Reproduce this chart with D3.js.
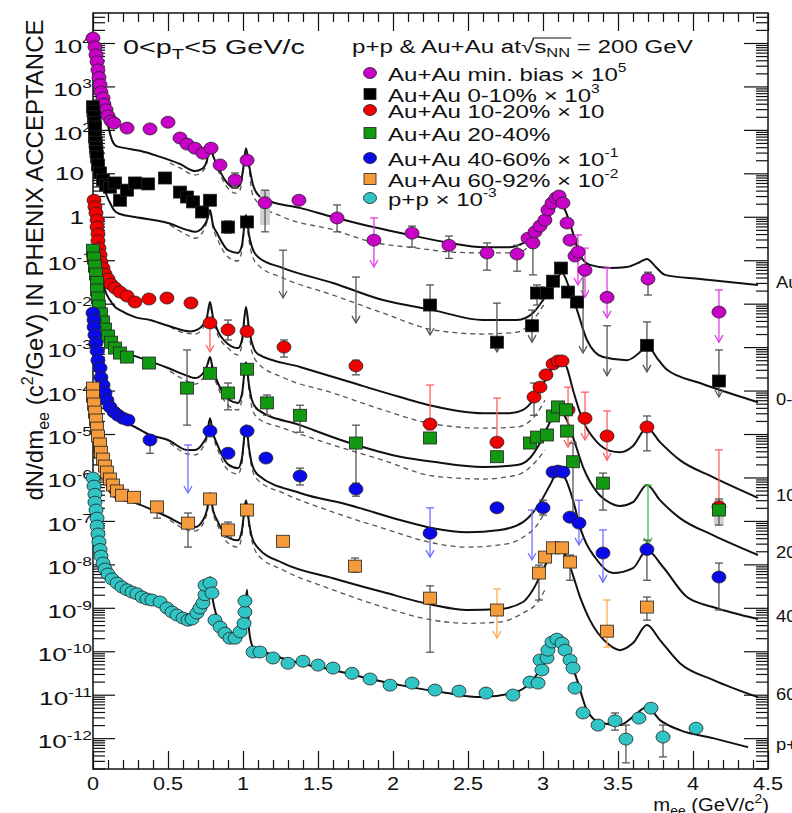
<!DOCTYPE html>
<html>
<head>
<meta charset="utf-8">
<script src="https://cdn.jsdelivr.net/npm/d3@7"></script>
<style>
body { margin: 0; background: #fff; }
svg text { font-family: "Liberation Sans", Arial, Helvetica, sans-serif; fill: #111; }
</style>
</head>
<body>
<svg id="chart" width="792" height="813"></svg>
<script>
// ---- data: [m_ee (GeV/c2), dN/dm_ee] ----
// error rows: [m, low, high, arrow(upper limit), coloured bar]

// Au+Au min. bias x 10^5
const mbPts = [[0,1.3e4],[0.013,8.1e3],[0.02,5.3e3],[0.027,3.7e3],[0.033,2.4e3],[0.04,1.6e3],[0.047,1.1e3],[0.053,740],[0.067,540],[0.073,390],[0.087,290],[0.1,210],[0.12,160],[0.14,144],[0.227,110],[0.38,105],[0.5,150],[0.58,65],[0.627,47],[0.68,38],[0.733,29],[0.787,38],[0.847,15.6],[0.947,7.0],[1.027,20],[1.147,2.1],[1.373,2.4],[1.627,0.94],[1.873,0.29],[2.127,0.42],[2.373,0.22],[2.627,0.147],[2.827,0.139],[2.9,0.32],[2.933,0.25],[2.947,0.45],[2.98,0.61],[3.013,0.84],[3.033,1.43],[3.06,2.07],[3.087,2.7],[3.107,3.0],[3.133,2.07],[3.16,0.72],[3.18,0.29],[3.213,0.125],[3.233,0.155],[3.28,0.059],[3.427,0.014],[3.7,0.037],[4.173,0.0064]];
const mbErr = [[0.947,4.6,10.2,0,0],[1.147,0.45,4.1,0,0],[1.627,0.45,1.87,0,0],[1.873,0.07,0.94,1,1],[2.127,0.20,0.61,0,0],[2.373,0.11,0.36,0,0],[2.627,0.059,0.25,0,0],[2.827,0.056,0.22,0,0],[2.933,0.046,0.38,0,0],[3.233,0.027,0.38,1,1],[3.28,0.014,0.19,1,1],[3.427,0.0047,0.066,1,1],[3.7,0.0158,0.053,0,0],[4.173,0.0013,0.0206,1,1]];
const mbSys = [[1.147,0.65,4.1]];
const mbCurve = [[0,1.17e4],[0.047,1080],[0.08,290],[0.1,130],[0.127,58],[0.153,43],[0.213,38],[0.313,33],[0.447,24],[0.58,16.4],[0.68,11.3],[0.727,12.6],[0.76,20],[0.78,50],[0.8,26],[0.827,15.6],[0.88,7.0],[0.947,4.6],[0.98,5.4],[1.0,11.9],[1.02,38],[1.04,15.6],[1.067,5.4],[1.1,3.2],[1.16,2.4],[1.38,1.6],[1.6,0.99],[1.867,0.58],[2.113,0.38],[2.38,0.25],[2.6,0.20],[2.78,0.20],[2.88,0.26],[2.947,0.38],[3.0,0.58],[3.047,1.1],[3.1,2.3],[3.147,1.43],[3.193,0.50],[3.247,0.13],[3.313,0.078],[3.447,0.066],[3.56,0.070],[3.647,0.091],[3.693,0.107],[3.747,0.073],[3.813,0.046],[4.047,0.037],[4.433,0.027]];
const mbDash = [[0.513,17.3],[0.58,13.3],[0.68,9.2],[0.727,10.7],[0.76,18],[0.78,45],[0.8,24],[0.827,13.3],[0.88,5.7],[0.947,3.5],[0.98,4.1],[1.0,10.2],[1.02,34],[1.04,13.3],[1.06,3.7],[1.1,2.1],[1.267,0.99],[1.6,0.50],[1.867,0.26],[2.16,0.19],[2.38,0.155],[2.6,0.147],[2.827,0.147],[2.913,0.22],[2.96,0.32]];

// Au+Au 0-10% x 10^3
const c0Pts = [[0,340],[0.003,270],[0.007,200],[0.01,150],[0.013,116],[0.013,69],[0.017,52],[0.02,40],[0.023,32],[0.027,24],[0.033,15.6],[0.047,10.2],[0.067,7.0],[0.087,5.4],[0.113,4.8],[0.147,6.0],[0.18,2.4],[0.227,4.1],[0.28,6.0],[0.367,5.7],[0.48,7.8],[0.58,3.7],[0.627,2.85],[0.667,2.2],[0.727,1.29],[0.78,2.4],[0.9,0.58],[1.027,0.76],[2.247,0.0093],[2.693,0.0013],[2.927,0.0031],[2.96,0.0176],[3.027,0.0176],[3.067,0.033],[3.12,0.066],[3.167,0.0185],[3.227,0.0109],[3.693,0.0011],[4.173,1.66e-4]];
const c0Err = [[0.9,0.42,0.8,0,0],[1.267,0.0135,0.17,1,0],[1.753,0.0036,0.041,1,0],[2.247,0.0019,0.027,1,0],[2.693,7.7e-4,0.0103,1,0],[2.927,0.0013,0.0071,1,0],[2.96,0.0093,0.027,0,0],[3.267,7.3e-4,0.059,1,0],[3.427,2.2e-4,0.0031,1,0],[3.693,2.7e-4,0.0038,1,0],[4.173,7.1e-5,8.6e-4,1,0]];
const c0Curve = [[0,340],[0.027,58],[0.047,20],[0.08,4.1],[0.113,2.1],[0.14,1.43],[0.18,1.16],[0.28,0.99],[0.5,0.72],[0.627,0.50],[0.68,0.45],[0.733,0.58],[0.76,0.84],[0.78,1.43],[0.8,0.65],[0.827,0.42],[0.9,0.17],[0.967,0.147],[0.993,0.22],[1.02,1.1],[1.04,0.38],[1.06,0.20],[1.1,0.119],[1.267,0.066],[1.6,0.030],[1.933,0.0121],[2.267,0.0071],[2.6,0.0042],[2.827,0.0042],[2.933,0.0061],[3.0,0.0121],[3.067,0.027],[3.127,0.051],[3.18,0.0206],[3.227,0.0071],[3.293,0.00146],[3.4,5.9e-4],[3.56,5.0e-4],[3.647,7.7e-4],[3.693,0.00112],[3.76,5.6e-4],[3.827,3.0e-4],[4.047,1.49e-4],[4.433,5.4e-5]];
const c0Dash = [[0.513,0.65],[0.627,0.38],[0.68,0.32],[0.733,0.45],[0.76,0.76],[0.78,1.29],[0.8,0.55],[0.827,0.32],[0.9,0.119],[0.967,0.096],[0.993,0.17],[1.02,0.99],[1.04,0.29],[1.06,0.132],[1.1,0.078],[1.267,0.039],[1.6,0.0158],[1.933,0.0061],[2.267,0.0025],[2.6,0.0020],[2.827,0.0022],[2.96,0.0055],[3.013,0.0104]];

// Au+Au 10-20% x 10
const c10Pts = [[0.007,2.4],[0.013,1.68],[0.02,1.22],[0.027,0.84],[0.027,0.58],[0.033,0.40],[0.033,0.28],[0.04,0.19],[0.047,0.132],[0.053,0.091],[0.067,0.066],[0.08,0.048],[0.1,0.037],[0.12,0.028],[0.147,0.023],[0.18,0.0185],[0.227,0.015],[0.28,0.0109],[0.373,0.0128],[0.493,0.0135],[0.653,0.0104],[0.78,0.0036],[0.9,0.0025],[1.027,0.0023],[1.273,0.001],[1.753,3.7e-4],[2.247,1.7e-5],[2.693,6.5e-6],[2.94,7.1e-5],[2.98,1.2e-4],[3.02,2.3e-4],[3.067,4.1e-4],[3.1,4.8e-4],[3.127,4.8e-4],[3.167,3.6e-5],[3.28,2.3e-5],[3.427,9.0e-6],[3.693,1.45e-5],[4.173,2.1e-7]];
const c10Err = [[0.78,7.7e-4,0.0036,1,1],[0.9,0.00146,0.0042,0,0],[1.273,5.9e-4,0.00146,0,0],[1.753,2.3e-4,5.0e-4,0,0],[2.247,1.24e-5,1.34e-4,0,1],[2.693,4.8e-6,6.7e-5,0,1],[2.94,2.7e-5,1.49e-4,0,0],[3.167,5.0e-6,1.2e-4,1,1],[3.28,7.3e-6,9.2e-5,1,1],[3.427,2.5e-6,3.4e-5,1,1],[3.693,4.1e-6,2.6e-5,0,0],[4.173,2.1e-7,4.3e-6,1,1]];
const c10Curve = [[0,2.4],[0.027,0.29],[0.047,0.078],[0.08,0.0206],[0.113,0.0121],[0.147,0.0084],[0.18,0.0071],[0.28,0.0049],[0.38,0.0042],[0.5,0.0031],[0.647,0.0023],[0.693,0.0025],[0.733,0.0032],[0.76,0.0049],[0.78,0.0109],[0.8,0.0049],[0.827,0.0026],[0.9,0.00118],[0.967,9.5e-4],[0.993,0.00146],[1.02,0.0084],[1.04,0.0027],[1.06,0.00124],[1.1,6.9e-4],[1.38,3.5e-4],[1.713,1.57e-4],[2.047,7.1e-5],[2.267,4.4e-5],[2.6,3.0e-5],[2.78,3.0e-5],[2.867,3.6e-5],[2.933,6.0e-5],[2.98,1.14e-4],[3.027,2.0e-4],[3.067,3.7e-4],[3.12,5.3e-4],[3.16,3.3e-4],[3.2,1.03e-4],[3.267,2.0e-5],[3.36,6.5e-6],[3.447,4.1e-6],[3.513,3.8e-6],[3.6,5.3e-6],[3.693,1.37e-5],[3.78,6.5e-6],[3.913,2.5e-6],[4.133,1.02e-6],[4.433,3.4e-7]];
const c10Dash = [[0.513,0.0029],[0.613,0.0021],[0.68,0.0020],[0.733,0.0027],[0.76,0.0042],[0.78,0.0093],[0.8,0.0042],[0.827,0.0021],[0.9,9.5e-4],[0.967,6.6e-4],[0.993,0.00112],[1.02,0.0071],[1.04,0.0021],[1.06,7.7e-4],[1.1,4.3e-4],[1.267,2.0e-4],[1.6,8.8e-5],[1.933,3.6e-5],[2.267,1.7e-5],[2.6,1.37e-5],[2.827,1.45e-5],[2.96,3.0e-5],[3.013,6.0e-5]];

// Au+Au 20-40%
const c20Pts = [[0,0.17],[0.007,0.112],[0.013,0.073],[0.02,0.048],[0.027,0.031],[0.027,0.0206],[0.033,0.0135],[0.04,0.0088],[0.053,0.0058],[0.067,0.0038],[0.08,0.0026],[0.1,0.0018],[0.12,0.0013],[0.147,9.5e-4],[0.18,7.3e-4],[0.227,5.9e-4],[0.373,4.3e-4],[0.627,1.14e-4],[0.78,2.5e-4],[0.9,8.8e-5],[1.027,3.1e-4],[1.16,5.2e-5],[1.38,2.7e-5],[1.753,6.2e-6],[2.247,8.1e-6],[2.693,3.0e-6],[2.913,6.2e-6],[2.96,8.5e-6],[3.027,9.5e-6],[3.067,2.6e-5],[3.1,4.2e-5],[3.153,3.6e-5],[3.16,1.17e-5],[3.2,2.3e-6],[3.4,7.4e-7],[4.173,1.78e-7]];
const c20Err = [[0.627,1.6e-5,8.6e-4,0,0],[0.9,3.6e-5,1.49e-4,0,0],[1.16,2.7e-5,7.9e-5,0,0],[1.38,1.1e-5,4.6e-5,0,0],[1.753,4.6e-7,1.6e-5,0,0],[3.2,1.05e-7,6.2e-6,0,0],[3.4,1.78e-7,1.26e-6,0,0],[3.7,2.8e-8,6.7e-7,1,1],[4.173,8.0e-8,3.2e-7,0,0]];
const c20Sys = [[4.173,8.0e-8,3.0e-7]];
const c20Curve = [[0,0.17],[0.027,0.0206],[0.047,0.0071],[0.08,0.0022],[0.113,0.00124],[0.147,8.6e-4],[0.28,6.2e-4],[0.5,3.3e-4],[0.627,2.2e-4],[0.68,1.94e-4],[0.733,2.5e-4],[0.76,3.7e-4],[0.78,5.9e-4],[0.8,3.0e-4],[0.827,1.66e-4],[0.9,6.4e-5],[0.967,5.2e-5],[0.993,8.3e-5],[1.02,4.5e-4],[1.04,1.34e-4],[1.06,6.0e-5],[1.1,3.6e-5],[1.38,1.6e-5],[1.713,6.2e-6],[2.047,3.0e-6],[2.267,2.3e-6],[2.6,1.74e-6],[2.827,1.93e-6],[2.913,2.8e-6],[2.98,6.2e-6],[3.047,1.88e-5],[3.1,3.6e-5],[3.153,2.3e-5],[3.2,8.5e-6],[3.267,1.74e-6],[3.36,4.6e-7],[3.447,2.6e-7],[3.513,2.2e-7],[3.6,2.7e-7],[3.693,6.7e-7],[3.78,3.0e-7],[3.913,1.16e-7],[4.133,4.7e-8],[4.433,1.64e-8]];
const c20Dash = [[0.513,2.8e-4],[0.627,1.66e-4],[0.68,1.41e-4],[0.733,1.94e-4],[0.76,3.1e-4],[0.78,5.3e-4],[0.8,2.5e-4],[0.827,1.34e-4],[0.9,4.6e-5],[0.967,3.6e-5],[0.993,6.4e-5],[1.02,4.1e-4],[1.04,1.03e-4],[1.06,4.0e-5],[1.1,2.3e-5],[1.267,1.37e-5],[1.6,5.6e-6],[1.933,2.5e-6],[2.267,1.08e-6],[2.6,9.2e-7],[2.827,1.14e-6],[2.96,2.5e-6],[3.013,4.3e-6]];

// Au+Au 40-60% x 10^-1
const c40Pts = [[0,0.0061],[0.007,0.0042],[0.007,0.0029],[0.013,0.0019],[0.02,0.00124],[0.027,8.1e-4],[0.033,5.0e-4],[0.047,3.3e-4],[0.053,2.0e-4],[0.067,1.34e-4],[0.08,8.8e-5],[0.093,6.0e-5],[0.113,4.2e-5],[0.14,3.2e-5],[0.167,2.7e-5],[0.2,2.3e-5],[0.233,2.1e-5],[0.38,7.3e-6],[0.78,1.17e-5],[0.9,3.6e-6],[1.027,1.17e-5],[1.153,2.8e-6],[1.38,1.08e-6],[1.753,5.4e-7],[2.247,5.2e-8],[2.693,2.0e-7],[3.0,2.0e-7],[3.067,1.33e-6],[3.1,1.4e-6],[3.133,1.33e-6],[3.18,1.22e-7],[3.24,8.9e-8],[3.4,1.82e-8],[3.693,2.2e-8],[4.173,5.1e-9]];
const c40Err = [[0.38,3.6e-6,9.5e-6,0,0],[0.633,4.4e-7,5.6e-6,1,1],[1.38,6.7e-7,1.64e-6,0,0],[1.753,3.7e-7,7.4e-7,0,0],[2.247,1.47e-8,2.0e-7,1,1],[2.927,1.26e-8,1.78e-7,1,1],[3.0,1.36e-7,3.0e-7,0,0],[3.24,2.8e-8,3.0e-7,1,1],[3.4,3.9e-9,6.2e-8,1,1],[3.693,4.3e-9,3.6e-8,0,0],[4.173,8.9e-10,1.07e-8,0,0]];
const c40Curve = [[0,0.0061],[0.027,8.6e-4],[0.047,2.3e-4],[0.08,6.0e-5],[0.113,3.2e-5],[0.147,2.5e-5],[0.28,1.45e-5],[0.38,9.5e-6],[0.5,7.3e-6],[0.627,4.3e-6],[0.68,4.3e-6],[0.733,6.2e-6],[0.76,9.5e-6],[0.78,2.3e-5],[0.8,1.05e-5],[0.827,5.9e-6],[0.9,2.0e-6],[0.967,1.64e-6],[0.993,2.8e-6],[1.02,1.6e-5],[1.04,4.8e-6],[1.06,2.0e-6],[1.1,1.14e-6],[1.38,4.4e-7],[1.713,2.3e-7],[2.047,1.05e-7],[2.267,6.8e-8],[2.493,5.5e-8],[2.713,6.2e-8],[2.867,9.4e-8],[2.98,2.6e-7],[3.047,6.7e-7],[3.1,1.33e-6],[3.147,9.7e-7],[3.2,3.0e-7],[3.247,7.2e-8],[3.36,1.26e-8],[3.467,6.3e-9],[3.6,8.2e-9],[3.693,2.1e-8],[3.8,8.7e-9],[3.96,1.77e-9],[4.133,1.04e-9],[4.433,5.5e-10]];
const c40Dash = [[0.513,6.2e-6],[0.627,3.5e-6],[0.68,3.3e-6],[0.733,5.0e-6],[0.76,8.1e-6],[0.78,2.1e-5],[0.8,9.0e-6],[0.827,4.8e-6],[0.9,1.48e-6],[0.967,1.2e-6],[0.993,2.1e-6],[1.02,1.45e-5],[1.04,3.8e-6],[1.067,1.33e-6],[1.1,8.7e-7],[1.267,4.4e-7],[1.6,1.6e-7],[1.933,6.8e-8],[2.267,3.1e-8],[2.493,2.5e-8],[2.713,2.8e-8],[2.867,4.2e-8],[2.96,8.0e-8],[3.013,1.6e-7]];

// Au+Au 60-92% x 10^-2
const c60Pts = [[0,1.14e-4],[0,7.5e-5],[0.007,4.9e-5],[0.013,3.2e-5],[0.02,2.1e-5],[0.027,1.37e-5],[0.033,9.0e-6],[0.047,5.9e-6],[0.053,3.8e-6],[0.067,2.65e-6],[0.08,1.83e-6],[0.093,1.33e-6],[0.113,9.2e-7],[0.133,6.7e-7],[0.16,4.9e-7],[0.193,3.9e-7],[0.273,3.5e-7],[0.427,2.1e-7],[0.633,8.9e-8],[0.78,3.2e-7],[0.9,6.2e-8],[1.027,1.78e-7],[1.267,3.4e-8],[1.747,9.1e-9],[2.247,1.67e-9],[2.693,8.9e-10],[2.973,6.3e-9],[3.013,1.47e-8],[3.067,2.4e-8],[3.127,2.4e-8],[3.18,1.13e-8],[3.427,2.9e-10],[3.693,1.04e-9]];
const c60Err = [[0.427,1.16e-7,2.7e-7,0,0],[0.633,2.5e-8,1.52e-7,0,0],[0.9,4.2e-8,9.4e-8,0,0],[1.747,6.6e-9,1.4e-8,0,0],[2.247,9.5e-11,3.2e-9,0,0],[2.693,2.0e-10,2.7e-9,1,1],[2.973,1.51e-9,9.6e-9,0,0],[3.18,4.3e-9,1.64e-8,0,0],[3.427,1.25e-10,1.51e-9,0,1],[3.693,5.2e-10,1.77e-9,0,0]];
const c60Curve = [[0,1.14e-4],[0.027,1.6e-5],[0.047,4.3e-6],[0.08,8.7e-7],[0.113,4.6e-7],[0.147,3.5e-7],[0.28,2.6e-7],[0.5,1.23e-7],[0.627,7.6e-8],[0.68,7.2e-8],[0.733,1.04e-7],[0.76,1.78e-7],[0.78,4.4e-7],[0.8,1.78e-7],[0.827,1.04e-7],[0.9,4.2e-8],[0.967,3.6e-8],[0.993,6.2e-8],[1.02,3.0e-7],[1.04,9.4e-8],[1.06,4.2e-8],[1.1,2.4e-8],[1.267,1.07e-8],[1.6,4.8e-9],[1.933,2.3e-9],[2.267,1.16e-9],[2.493,8.9e-10],[2.713,9.4e-10],[2.867,1.36e-9],[2.933,2.6e-9],[3.0,7.4e-9],[3.067,1.92e-8],[3.113,2.2e-8],[3.18,8.7e-9],[3.247,1.77e-9],[3.313,5.2e-10],[3.427,1.54e-10],[3.513,1.06e-10],[3.6,1.54e-10],[3.693,4.0e-10],[3.78,1.81e-10],[3.913,5.3e-11],[4.133,2.2e-11],[4.433,8.8e-12]];
const c60Dash = [[0.513,1.04e-7],[0.627,6.2e-8],[0.68,5.8e-8],[0.733,8.5e-8],[0.76,1.52e-7],[0.78,3.9e-7],[0.8,1.52e-7],[0.827,8.5e-8],[0.9,3.1e-8],[0.967,2.5e-8],[0.993,4.5e-8],[1.02,2.7e-7],[1.04,7.2e-8],[1.067,2.8e-8],[1.1,1.64e-8],[1.267,7.4e-9],[1.6,2.6e-9],[1.933,1.04e-9],[2.267,5.2e-10],[2.493,4.4e-10],[2.713,4.7e-10],[2.867,7.6e-10],[2.96,1.29e-9],[3.013,2.6e-9]];

// p+p x 10^-3
const ppPts = [[0,9.7e-7],[0.007,6.3e-7],[0.013,4.1e-7],[0.013,2.7e-7],[0.02,1.78e-7],[0.027,1.16e-7],[0.027,7.6e-8],[0.033,5.0e-8],[0.04,3.3e-8],[0.047,2.2e-8],[0.053,1.55e-8],[0.067,1.07e-8],[0.08,7.8e-9],[0.1,6.0e-9],[0.127,4.6e-9],[0.16,3.7e-9],[0.193,3.0e-9],[0.227,2.6e-9],[0.26,2.3e-9],[0.293,2.1e-9],[0.327,1.77e-9],[0.36,1.59e-9],[0.393,1.51e-9],[0.447,1.36e-9],[0.493,9.9e-10],[0.527,8.0e-10],[0.56,6.8e-10],[0.6,5.8e-10],[0.633,5.2e-10],[0.66,5.5e-10],[0.693,7.6e-10],[0.713,9.9e-10],[0.733,1.29e-9],[0.747,2.0e-9],[0.747,3.3e-9],[0.78,3.7e-9],[0.793,2.2e-9],[0.813,5.2e-10],[0.847,3.6e-10],[0.88,2.6e-10],[0.913,2.0e-10],[0.947,2.0e-10],[0.98,2.8e-10],[1.007,4.4e-10],[1.013,8.0e-10],[1.013,1.43e-9],[1.067,9.6e-11],[1.113,9.6e-11],[1.2,7.0e-11],[1.3,5.3e-11],[1.4,5.9e-11],[1.5,4.8e-11],[1.6,4.1e-11],[1.727,3.1e-11],[1.847,2.3e-11],[1.98,1.66e-11],[2.127,1.85e-11],[2.28,1.28e-11],[2.44,1.21e-11],[2.62,1.09e-11],[2.8,9.8e-12],[2.913,1.95e-11],[2.967,1.85e-11],[2.98,6.3e-11],[2.993,3.7e-11],[3.027,7.0e-11],[3.033,1.06e-10],[3.06,1.63e-10],[3.093,1.9e-10],[3.127,1.54e-10],[3.147,1.06e-10],[3.18,6.3e-11],[3.2,4.1e-11],[3.213,1.42e-11],[3.267,3.8e-12],[3.367,2.0e-12],[3.48,2.5e-12],[3.553,9.5e-13],[3.64,2.9e-12],[3.72,4.9e-12],[3.8,1.06e-12],[4.02,1.7e-12]];
const ppErr = [[3.48,1.53e-12,3.8e-12,0,0],[3.553,2.7e-13,2.0e-12,0,0],[3.8,3.7e-13,2.0e-12,0,0]];
const ppCurve = [[0,9.7e-7],[0.027,1.36e-7],[0.047,3.6e-8],[0.08,1.13e-8],[0.113,6.3e-9],[0.18,3.7e-9],[0.28,2.3e-9],[0.38,1.51e-9],[0.493,1.04e-9],[0.627,6.8e-10],[0.693,8.0e-10],[0.747,1.51e-9],[0.767,2.8e-9],[0.78,5.1e-9],[0.793,2.0e-9],[0.813,8.9e-10],[0.867,3.6e-10],[0.933,2.1e-10],[0.98,2.1e-10],[1.0,4.0e-10],[1.013,8.9e-10],[1.027,2.6e-9],[1.04,3.1e-10],[1.067,1.25e-10],[1.16,9.1e-11],[1.38,5.3e-11],[1.6,3.7e-11],[1.827,2.4e-11],[2.047,1.66e-11],[2.36,1.09e-11],[2.58,8.8e-12],[2.8,1.09e-11],[2.933,2.2e-11],[3.027,7.3e-11],[3.093,1.81e-10],[3.16,9.1e-11],[3.227,2.2e-11],[3.293,4.4e-12],[3.38,2.3e-12],[3.513,2.0e-12],[3.6,3.1e-12],[3.693,5.2e-12],[3.78,2.6e-12],[3.913,1.53e-12],[4.133,1.0e-12],[4.367,6.2e-13]];

// axis ticks and labels
const xTickVals = [0, 0.5, 1, 1.5, 2, 2.5, 3, 3.5, 4, 4.5];
const xTickLabels = ["0", "0.5", "1", "1.5", "2", "2.5", "3", "3.5", "4", "4.5"];
const yDecades = [4, 3, 2, 1, 0, -1, -2, -3, -4, -5, -6, -7, -8, -9, -10, -11, -12];

// legend and curve-end labels
const legendText = ["Au+Au min. bias \u00d7 10", "Au+Au 0-10% \u00d7 10", "Au+Au 10-20% \u00d7 10", "Au+Au 20-40%", "Au+Au 40-60% \u00d7 10", "Au+Au 60-92% \u00d7 10", "p+p \u00d7 10"];
const legendExp = ["5", "3", "", "", "-1", "-2", "-3"];
const endLabels = ["Au", "0-", "10", "20", "40", "60", "p+"];

// ---- layout ----
const margin = {top: 13, right: 24, bottom: 44, left: 93},
    width = 792 - margin.left - margin.right,
    height = 813 - margin.top - margin.bottom;
const legendRowY = [75, 96, 112, 135, 160, 181, 200];

const svg = d3.select("#chart");
const chart = svg.append("g")
    .attr("transform", "translate(" + margin.left + "," + margin.top + ")");

const xScale = d3.scaleLinear().domain([0, 4.5]).range([0, width]);
const yScale = d3.scaleLog().domain([Math.pow(10, -12.71), Math.pow(10, 4.69)]).range([height, 0]);

chart.append("clipPath").attr("id", "plotClip")
    .append("rect").attr("width", width).attr("height", height);

const series = [
    {pts: mbPts, err: mbErr, sys: mbSys, curve: mbCurve, dash: mbDash, color: "#c800c8", light: "#e040e0", shape: "circle"},
    {pts: c0Pts, err: c0Err, sys: [], curve: c0Curve, dash: c0Dash, color: "#000000", light: "#555555", shape: "square"},
    {pts: c10Pts, err: c10Err, sys: [], curve: c10Curve, dash: c10Dash, color: "#f00000", light: "#ff6060", shape: "circle"},
    {pts: c20Pts, err: c20Err, sys: c20Sys, curve: c20Curve, dash: c20Dash, color: "#119a11", light: "#40c040", shape: "square"},
    {pts: c40Pts, err: c40Err, sys: [], curve: c40Curve, dash: c40Dash, color: "#0a0ae8", light: "#7070ff", shape: "circle"},
    {pts: c60Pts, err: c60Err, sys: [], curve: c60Curve, dash: c60Dash, color: "#f59b3c", light: "#ffab50", shape: "square"},
    {pts: ppPts, err: ppErr, sys: [], curve: ppCurve, dash: [], color: "#30c4c4", light: "#30c4c4", shape: "circle"}
];

// ---- axes ----
const xMinor = d3.range(0, 46).filter(i => i % 5 !== 0).map(i => i / 10);
const yMinor = [];
for (let e = -13; e <= 4; e++) {
    for (let k = 2; k <= 9; k++) {
        const v = k * Math.pow(10, e);
        if (v > yScale.domain()[0] && v < yScale.domain()[1]) yMinor.push(v);
    }
}
const yMajor = yDecades.map(e => Math.pow(10, e));

function tidy(g) {
    g.select(".domain").remove();
    g.selectAll("line").attr("stroke", "#111").attr("stroke-width", 1.2);
    g.selectAll("text").remove();
}
chart.append("g").attr("transform", "translate(0," + height + ")")
    .call(d3.axisBottom(xScale).tickValues(xMinor).tickSizeInner(-9).tickSizeOuter(0)).call(tidy);
chart.append("g").attr("transform", "translate(0," + height + ")")
    .call(d3.axisBottom(xScale).tickValues(xTickVals).tickSizeInner(-18).tickSizeOuter(0)).call(tidy);
chart.append("g")
    .call(d3.axisTop(xScale).tickValues(xMinor).tickSizeInner(-9).tickSizeOuter(0)).call(tidy);
chart.append("g")
    .call(d3.axisTop(xScale).tickValues(xTickVals).tickSizeInner(-18).tickSizeOuter(0)).call(tidy);
chart.append("g")
    .call(d3.axisLeft(yScale).tickValues(yMinor).tickSizeInner(-12).tickSizeOuter(0)).call(tidy);
chart.append("g")
    .call(d3.axisLeft(yScale).tickValues(yMajor).tickSizeInner(-22).tickSizeOuter(0)).call(tidy);
chart.append("g").attr("transform", "translate(" + width + ",0)")
    .call(d3.axisRight(yScale).tickValues(yMinor).tickSizeInner(-12).tickSizeOuter(0)).call(tidy);
chart.append("g").attr("transform", "translate(" + width + ",0)")
    .call(d3.axisRight(yScale).tickValues(yMajor).tickSizeInner(-24).tickSizeOuter(0)).call(tidy);

chart.append("rect")
    .attr("width", width).attr("height", height)
    .attr("fill", "none").attr("stroke", "#111").attr("stroke-width", 1.5);

// stretched text helper (the figure's lettering is wide)
function stext(parent, x, y, sx, size, anchor) {
    return parent.append("text")
        .attr("transform", "translate(" + x + "," + y + ") scale(" + sx + ",1)")
        .attr("font-size", size)
        .attr("text-anchor", anchor || "start");
}

// x tick labels
xTickVals.forEach((v, i) => {
    stext(chart, xScale(v), height + 21, 1.14, 19, "middle").text(xTickLabels[i]);
});

// y tick labels
yDecades.forEach(e => {
    const yy = yScale(Math.pow(10, e));
    if (e === 0 || e === 1) {
        stext(chart, -9, yy + 7, 1.45, 18, "end").text(e === 0 ? "1" : "10");
    } else {
        const t = stext(chart, -1, yy + 10, 1.45, 18, "end");
        t.append("tspan").text("10");
        t.append("tspan").attr("font-size", 12).attr("dy", -8).text(String(e));
    }
});

// ---- curves ----
const line = d3.line()
    .x(d => xScale(d[0]))
    .y(d => yScale(d[1]))
    .curve(d3.curveMonotoneX);
const curveLayer = chart.append("g").attr("clip-path", "url(#plotClip)");
series.forEach(s => {
    if (s.dash.length) {
        curveLayer.append("path").datum(s.dash)
            .attr("d", line).attr("fill", "none")
            .attr("stroke", "#555").attr("stroke-width", 1.3).attr("stroke-dasharray", "5,4");
    }
});
series.forEach(s => {
    curveLayer.append("path").datum(s.curve)
        .attr("d", line).attr("fill", "none")
        .attr("stroke", "#111").attr("stroke-width", 2);
});

// ---- systematic boxes and error bars ----
const errLayer = chart.append("g");
series.forEach(s => {
    errLayer.selectAll(null).data(s.sys).join("rect")
        .attr("x", d => xScale(d[0]) - 5)
        .attr("y", d => yScale(d[2]))
        .attr("width", 10)
        .attr("height", d => yScale(d[1]) - yScale(d[2]))
        .attr("fill", "#c8c8c8").attr("opacity", 0.85);

    const eb = errLayer.selectAll(null).data(s.err).join("g")
        .attr("stroke", d => d[4] ? s.light : "#555")
        .attr("stroke-width", 1.3)
        .attr("fill", "none");
    eb.append("line")
        .attr("x1", d => xScale(d[0])).attr("x2", d => xScale(d[0]))
        .attr("y1", d => yScale(d[2])).attr("y2", d => yScale(d[1]));
    eb.append("line")
        .attr("x1", d => xScale(d[0]) - 4).attr("x2", d => xScale(d[0]) + 4)
        .attr("y1", d => yScale(d[2])).attr("y2", d => yScale(d[2]));
    eb.filter(d => !d[3]).append("line")
        .attr("x1", d => xScale(d[0]) - 4).attr("x2", d => xScale(d[0]) + 4)
        .attr("y1", d => yScale(d[1])).attr("y2", d => yScale(d[1]));
    eb.filter(d => d[3]).append("path")
        .attr("d", d => {
            const cx = xScale(d[0]), cy = yScale(d[1]);
            return "M" + (cx - 4) + "," + (cy - 7) + "L" + cx + "," + cy + "L" + (cx + 4) + "," + (cy - 7);
        });
});

// ---- markers ----
function drawMarkers(layer, pts, shape, color, rx, ry) {
    if (shape === "circle") {
        layer.selectAll(null).data(pts).join("ellipse")
            .attr("cx", d => d.x).attr("cy", d => d.y)
            .attr("rx", rx).attr("ry", ry)
            .attr("fill", color).attr("stroke", "#222").attr("stroke-width", 0.8);
    } else {
        layer.selectAll(null).data(pts).join("rect")
            .attr("x", d => d.x - rx).attr("y", d => d.y - ry)
            .attr("width", 2 * rx).attr("height", 2 * ry)
            .attr("fill", color).attr("stroke", "#222").attr("stroke-width", 0.8);
    }
}
const markLayer = chart.append("g");
series.forEach(s => {
    const p = s.pts.map(d => ({x: xScale(d[0]), y: yScale(d[1])}));
    drawMarkers(markLayer, p, s.shape, s.color, s.shape === "circle" ? 7 : 6.5, 6);
});

// ---- curve-end labels (cut by the page edge, as in the figure) ----
series.forEach((s, i) => {
    const last = s.curve[s.curve.length - 1];
    stext(chart, width + 8, yScale(last[1]) + 3, 1.15, 16, "start").text(endLabels[i]);
});

// ---- legend ----
series.forEach((s, i) => {
    const ly = legendRowY[i];
    drawMarkers(svg, [{x: 370, y: ly - 2}], s.shape, s.color, s.shape === "circle" ? 6.5 : 6, 5.5);
    const t = stext(svg, 388, ly + 6, 1.3, 18.5, "start");
    t.append("tspan").text(legendText[i]);
    if (legendExp[i]) t.append("tspan").attr("font-size", 12).attr("dy", -9).text(legendExp[i]);
});

// ---- titles ----
const t1 = stext(svg, 123, 54, 1.44, 20, "start");
t1.append("tspan").text("0<p");
t1.append("tspan").attr("font-size", 14).attr("dy", 5).text("T");
t1.append("tspan").attr("dy", -5).text("<5 GeV/c");

const hdr = svg.append("g").attr("transform", "translate(352,53) scale(1.27,1)");
const ht = hdr.append("text").attr("font-size", 19);
const h0 = ht.append("tspan").text("p+p & Au+Au at");
const h1 = ht.append("tspan").text("\u221a");
const h2 = ht.append("tspan").text("s");
const h3 = ht.append("tspan").attr("font-size", 13).attr("dy", 4).text("NN");
ht.append("tspan").attr("dy", -4).text(" = 200 GeV");
const w0 = h0.node().getComputedTextLength(),
    w1 = h1.node().getComputedTextLength(),
    w2 = h2.node().getComputedTextLength(),
    w3 = h3.node().getComputedTextLength();
hdr.append("line")
    .attr("x1", w0 + w1 - 1).attr("x2", w0 + w1 + w2 + w3 + 1)
    .attr("y1", -15).attr("y2", -15)
    .attr("stroke", "#111").attr("stroke-width", 1.2);

// y axis title
const yt = svg.append("text")
    .attr("transform", "translate(43,260) rotate(-90)")
    .attr("font-size", 24).attr("text-anchor", "middle");
yt.append("tspan").text("dN/dm");
yt.append("tspan").attr("font-size", 16).attr("dy", 6).text("ee");
yt.append("tspan").attr("dy", -6).text(" (c");
yt.append("tspan").attr("font-size", 16).attr("dy", -10).text("2");
yt.append("tspan").attr("dy", 10).text("/GeV) IN PHENIX ACCEPTANCE");

// x axis title
const xt = stext(svg, 769, 811, 1.07, 19, "end");
xt.append("tspan").text("m");
xt.append("tspan").attr("font-size", 13).attr("dy", 4).text("ee");
xt.append("tspan").attr("dy", -4).text(" (GeV/c");
xt.append("tspan").attr("font-size", 13).attr("dy", -8).text("2");
xt.append("tspan").attr("dy", 8).text(")");
</script>
</body>
</html>
